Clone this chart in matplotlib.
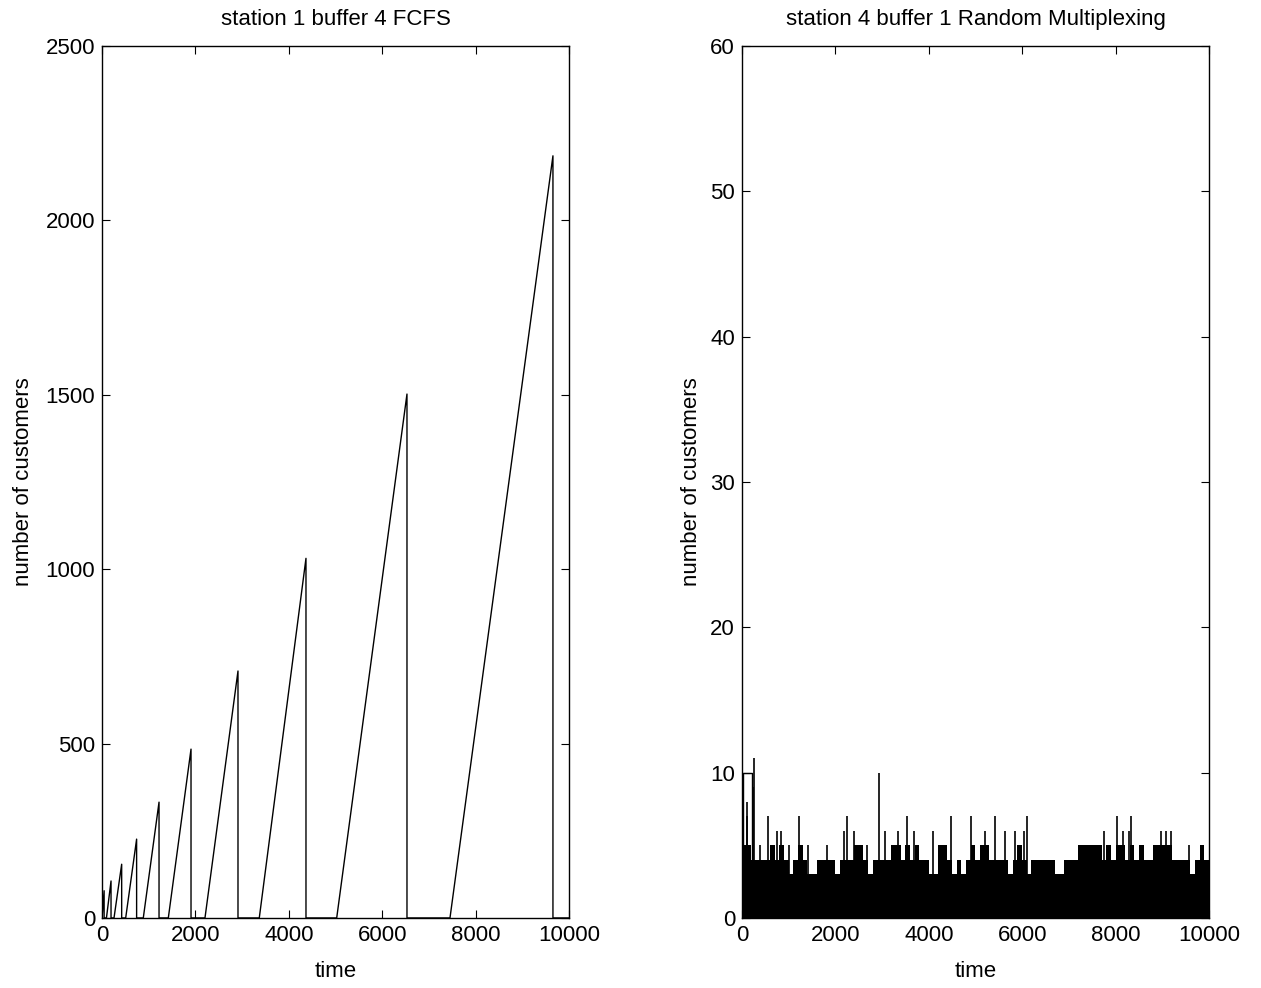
import numpy as np
import matplotlib
matplotlib.use("Agg")
import matplotlib.pyplot as plt

plt.rcParams['font.family'] = ['Liberation Sans', 'DejaVu Sans']
plt.rcParams['font.size'] = 16

# station 1 buffer 4 (FCFS): sawtooth teeth
ramp_start = [0, 95, 257, 507, 884, 1420, 2205, 3368, 5026, 7452]
peak_time = [45, 193, 421, 741, 1221, 1906, 2912, 4368, 6531, 9657]
peak_value = [78, 106, 154, 226, 332, 484, 708, 1031, 1502, 2185]
t_end = 10000

# station 4 buffer 1 (random multiplexing): upper level per 100-time bin
bin_start = list(range(0, 10000, 100))
bin_level = [5, 5, 4, 4, 4, 4, 5, 4, 5, 4,
             3, 4, 5, 4, 3, 3, 4, 4, 4, 4,
             3, 4, 4, 4, 5, 5, 4, 3, 4, 4,
             4, 4, 5, 5, 4, 5, 4, 5, 4, 4,
             3, 3, 5, 5, 4, 3, 4, 3, 4, 5,
             4, 5, 5, 4, 4, 4, 4, 3, 4, 5,
             4, 3, 4, 4, 4, 4, 4, 3, 3, 4,
             4, 4, 5, 5, 5, 5, 5, 4, 5, 4,
             5, 5, 4, 5, 4, 5, 4, 4, 5, 5,
             5, 5, 4, 4, 4, 4, 3, 4, 5, 4]
spike_time = [100, 115, 243, 265, 386, 565, 758, 830, 1000, 1230, 1410, 1830,
              2175, 2246, 2403, 2675, 2925, 3055, 3333, 3534, 3677, 4092,
              4478, 4914, 5200, 5415, 5630, 5845, 6037, 6094, 7754, 8040,
              8162, 8290, 8340, 8970, 9077, 9185, 9564]
spike_value = [8, 7, 9, 11, 5, 7, 6, 6, 5, 7, 5, 5,
               6, 7, 6, 5, 10, 6, 6, 7, 6, 6,
               7, 7, 6, 7, 6, 6, 6, 7, 6, 7,
               6, 6, 7, 6, 6, 6, 5]
hold_time = [14, 14, 207, 207]
hold_value = [0, 10, 10, 0]


def matlab_axes(ax):
    ax.tick_params(direction='in', length=6, width=0.8, top=True, right=True,
                   pad=5)
    for s in ax.spines.values():
        s.set_linewidth(1.0)


fig = plt.figure(figsize=(12.61, 9.88), dpi=100)
ax1 = fig.add_axes([0.0809, 0.0709, 0.3703, 0.8826])
ax2 = fig.add_axes([0.5884, 0.0709, 0.3703, 0.8826])

# left: build sawtooth path
xs, ys = [], []
for s, pt, pv in zip(ramp_start, peak_time, peak_value):
    xs += [s, pt, pt]
    ys += [0, pv, 0]
xs.append(t_end)
ys.append(0)
ax1.plot(xs, ys, color='k', lw=1.0)
ax1.set_xlim(0, 10000)
ax1.set_ylim(0, 2500)
ax1.set_xticks(np.arange(0, 10001, 2000))
ax1.set_yticks(np.arange(0, 2501, 500))
ax1.set_xlabel('time', labelpad=11)
ax1.set_ylabel('number of customers', labelpad=8)
ax1.set_title('station 1 buffer 4 FCFS', fontsize=16, pad=15)
matlab_axes(ax1)

# right: dense fluctuating count
edges = bin_start + [10000]
levels = bin_level + [bin_level[-1]]
ax2.fill_between(edges, 0, levels, step='post', color='k', lw=0)
ax2.vlines(spike_time, 0, spike_value, color='k', lw=1.2)
ax2.plot(hold_time, hold_value, color='k', lw=1.0)
ax2.set_xlim(0, 10000)
ax2.set_ylim(0, 60)
ax2.set_xticks(np.arange(0, 10001, 2000))
ax2.set_yticks(np.arange(0, 61, 10))
ax2.set_xlabel('time', labelpad=11)
ax2.set_ylabel('number of customers', labelpad=6)
ax2.set_title('station 4 buffer 1 Random Multiplexing', fontsize=16, pad=15)
matlab_axes(ax2)

fig.savefig('out.png', dpi=100)
